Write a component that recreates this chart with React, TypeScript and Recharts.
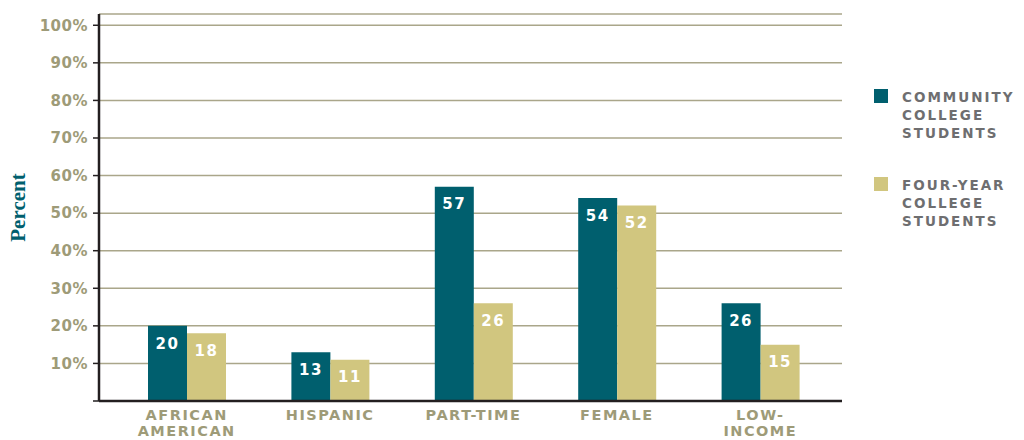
import React from 'react';
import { BarChart, Bar, XAxis, YAxis, CartesianGrid, LabelList, Legend } from 'recharts';

const categories = ['AFRICAN AMERICAN', 'HISPANIC', 'PART-TIME', 'FEMALE', 'LOW-INCOME'];
const categoryLines = [['AFRICAN', 'AMERICAN'], ['HISPANIC'], ['PART-TIME'], ['FEMALE'], ['LOW-', 'INCOME']];
const communityCollege = [20, 13, 57, 54, 26];
const fourYearCollege = [18, 11, 26, 52, 15];
const percentTicks = [0, 10, 20, 30, 40, 50, 60, 70, 80, 90, 100];

const TEAL = '#005f6e';
const KHAKI = '#d1c67f';
const OLIVE_TEXT = '#9e9b78';
const GRID = '#aaa68a';
const AXIS = '#231f20';
const FONT = '"DejaVu Sans", sans-serif';

const data = categories.map((name, i) => ({
    name,
    community: communityCollege[i],
    fourYear: fourYearCollege[i],
}));

const CategoryTick = (props: any) => {
    const { x, y, index } = props;
    const lines = categoryLines[index] || [props.payload.value];
    return (
        <text
            x={x}
            y={y + 19}
            textAnchor="middle"
            fill={OLIVE_TEXT}
            fontFamily={FONT}
            fontWeight="bold"
            fontSize={14.5}
            letterSpacing={1.5}
        >
            {lines.map((line: string, i: number) => (
                <tspan key={line} x={x} dy={i === 0 ? 0 : 15.5}>
                    {line}
                </tspan>
            ))}
        </text>
    );
};

const PercentLabel = (props: any) => {
    const { viewBox } = props;
    const cx = 18;
    const cy = viewBox.y + viewBox.height / 2;
    return (
        <text
            x={cx}
            y={cy}
            transform={`rotate(-90, ${cx}, ${cy})`}
            textAnchor="middle"
            dominantBaseline="central"
            fill={TEAL}
            fontFamily='"Liberation Serif", "DejaVu Serif", serif'
            fontWeight="bold"
            fontSize={21}
        >
            Percent
        </text>
    );
};

const LegendContent = (props: any) => {
    const { payload } = props;
    return (
        <div style={{ fontFamily: FONT }}>
            {(payload || []).map((entry: any) => (
                <div key={entry.value} style={{ position: 'relative', height: 88 }}>
                    <div style={{ position: 'absolute', left: 0, top: 0, width: 14, height: 14, background: entry.color }} />
                    <div
                        style={{
                            position: 'absolute',
                            left: 28,
                            top: -1.5,
                            fontSize: 13.5,
                            lineHeight: '18px',
                            fontWeight: 'bold',
                            letterSpacing: 2,
                            color: '#6e6e70',
                        }}
                    >
                        {String(entry.value).split(' ').map((w: string) => (
                            <div key={w}>{w}</div>
                        ))}
                    </div>
                </div>
            ))}
        </div>
    );
};

export default function App() {
    return (
        <div style={{ position: 'absolute', left: 0, top: 0, width: 1024, height: 440, overflow: 'hidden', background: '#fff' }}>
            <BarChart
                width={1024}
                height={440}
                data={data}
                margin={{ top: 14, right: 182, bottom: 0, left: 0 }}
                barGap={0}
                barCategoryGap={0}
            >
                <CartesianGrid vertical={false} stroke={GRID} strokeWidth={1.5} />
                <XAxis
                    dataKey="name"
                    height={39}
                    padding={{ left: 16, right: 10 }}
                    axisLine={{ stroke: AXIS, strokeWidth: 2.5 }}
                    tickLine={false}
                    tickSize={0}
                    tickMargin={0}
                    tick={<CategoryTick />}
                    interval={0}
                />
                <YAxis
                    width={99}
                    domain={[0, 103]}
                    ticks={percentTicks}
                    allowDataOverflow
                    tickFormatter={(v: number) => (v === 0 ? '' : `${v}%`)}
                    axisLine={{ stroke: AXIS, strokeWidth: 2.5 }}
                    tickLine={{ stroke: AXIS, strokeWidth: 1.5 }}
                    tickSize={6}
                    tickMargin={5}
                    tick={{ fill: OLIVE_TEXT, fontFamily: FONT, fontWeight: 'bold', fontSize: 15, letterSpacing: 0.5 }}
                    label={<PercentLabel />}
                />
                <Legend
                    layout="vertical"
                    align="center"
                    verticalAlign="middle"
                    wrapperStyle={{ position: 'absolute', left: 874, top: 89, width: 150 }}
                    content={<LegendContent />}
                />
                <Bar dataKey="community" name="COMMUNITY COLLEGE STUDENTS" fill={TEAL} barSize={39} isAnimationActive={false}>
                    <LabelList
                        dataKey="community"
                        position="insideTop"
                        offset={12}
                        fill="#ffffff"
                        fontFamily={FONT}
                        fontWeight="bold"
                        fontSize={15}
                        letterSpacing={1.5}
                    />
                </Bar>
                <Bar dataKey="fourYear" name="FOUR-YEAR COLLEGE STUDENTS" fill={KHAKI} barSize={39} isAnimationActive={false}>
                    <LabelList
                        dataKey="fourYear"
                        position="insideTop"
                        offset={12}
                        fill="#ffffff"
                        fontFamily={FONT}
                        fontWeight="bold"
                        fontSize={15}
                        letterSpacing={1.5}
                    />
                </Bar>
            </BarChart>
        </div>
    );
}
